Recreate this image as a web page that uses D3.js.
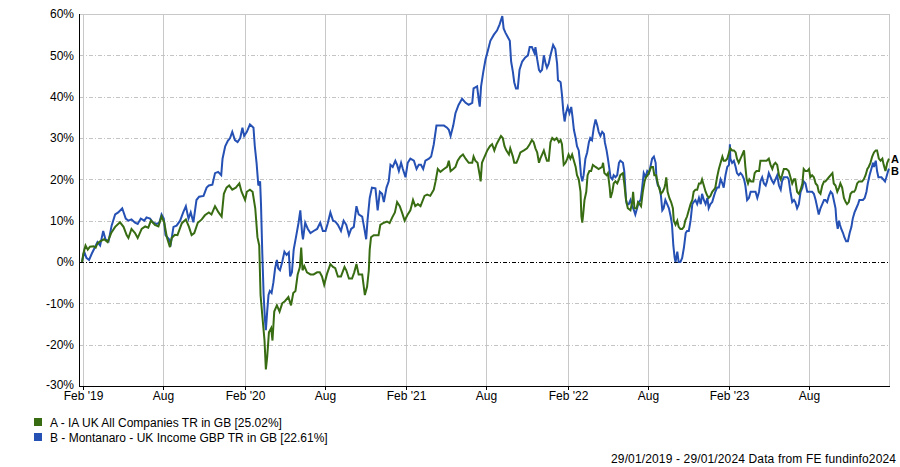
<!DOCTYPE html>
<html><head><meta charset="utf-8">
<script src="https://cdn.jsdelivr.net/npm/d3@7"></script>
<style>
body{margin:0;background:#fff;}
svg{display:block;font-family:"Liberation Sans",Arial,sans-serif;}
</style></head><body>
<svg id="chart" width="900" height="467"></svg>
<script>
const startDate = "2019-01-29";
const endDate = "2024-01-29";
const xTickDates = ["2019-02-01","2019-08-01","2020-02-01","2020-08-01","2021-02-01","2021-08-01","2022-02-01","2022-08-01","2023-02-01","2023-08-01"];
const xTickLabels = ["Feb '19","Aug","Feb '20","Aug","Feb '21","Aug","Feb '22","Aug","Feb '23","Aug"];
const yTicks = [-30,-20,-10,0,10,20,30,40,50,60];
const seriesNames = ["A - IA UK All Companies TR in GB [25.02%]","B - Montanaro - UK Income GBP TR in GB [22.61%]"];
const seriesCodes = ["A","B"];
const seriesColors = ["#386c12","#2550b4"];
const footerText = "29/01/2019 - 29/01/2024 Data from FE fundinfo2024";
// [days since start, cumulative % return]
const seriesA = [[0,0],[3,2],[8,4],[13,3],[18,3.7],[26,3.8],[31,3.5],[35,4.5],[41,5],[50,5.5],[58,4.8],[66,7],[75,8.5],[86,9.6],[94,8.5],[101,6.5],[105,5.8],[112,8],[120,7],[126,5.8],[135,8],[143,8.6],[150,8.3],[156,10],[165,9],[173,8.6],[180,11],[186,9.6],[192,6],[199,3.6],[203,5.8],[210,6.6],[216,6.5],[226,9.4],[235,10.3],[242,8.5],[248,6.5],[254,7],[262,9.5],[271,10.3],[278,11.3],[287,12],[293,11.5],[301,13.5],[309,12],[316,11],[321,16.5],[327,18],[333,18.5],[340,17.5],[348,18],[356,19],[361,17],[369,15],[373,17],[380,17.5],[386,17],[392,13],[397,6],[401,4],[404,-8],[408,-13],[413,-19],[416,-26],[419,-23],[423,-17],[428,-16],[431,-19],[435,-12],[441,-10.5],[447,-12],[453,-10],[459,-9.5],[467,-8.5],
[473,-10.5],[478,-7.5],[483,-7],[488,-3],[493,-1.2],[496,3.5],[499,-2],[503,-1],[509,-2.5],[517,-3],[524,-3],[532,-2.5],[538,-2.5],[543,-3.5],[548,-5.5],[554,-3],[562,-0.5],[568,-1.2],[573,-1.5],[579,-3.5],[586,-3.5],[594,-1.2],[598,-2],[604,-4],[611,-4],[616,-2.5],[621,-0.5],[626,-3],[634,-3],[637,-5.5],[640,-8],[645,-6],[649,-2],[651,3],[654,6],[660,6.5],[671,6.5],[675,9],[683,9.5],[690,9.8],[696,9.4],[702,10.8],[708,12],[713,14.5],[719,13.5],[724,12],[730,10],[736,11.3],[743,12.5],[749,15],[754,13.5],[760,14],[766,13.5],[775,16],[781,16.3],[788,16],[796,17.5],[800,19.5],[805,22.5],[811,21.8],[819,22.5],[826,23],[830,24.5],[834,22],[840,22.5],[845,23],[850,24.5],[856,25.5],[862,26],[868,25],[875,24],[883,24],[886,25.5],[890,24.5],[895,24],[900,21],[902,19.5],[905,24],[909,25],[913,26],[917,27],[923,28],[928,28.5],[933,27],[938,28.5],[943,29.5],[948,30.5],[952,30],[956,28],[960,27],[966,26],[969,27.5],[975,25.5],[978,24],[983,24],[987,25],[992,26.5],[1000,27],[1007,27.5],[1013,28.5],[1018,29.5],[1022,29],[1026,27.5],[1030,26.5],[1034,24],[1037,25],[1041,26],[1045,27],[1049,25.5],[1052,24.5],[1056,24.5],[1060,29],[1064,30],[1069,29.5],[1074,30],[1079,29],[1083,29.5],[1086,28.5],[1090,23.5],[1094,24],[1098,25],[1101,26],[1105,25],[1109,26],[1113,24.5],[1117,23],[1120,21],[1124,20],[1128,17],[1130,11],[1132,9.5],[1134,11.5],[1137,15],[1141,17],[1144,21],[1148,22],[1152,22],[1156,23.5],[1162,23],[1169,22.5],[1177,23],[1179,24],[1182,21.5],[1187,21],[1190,21.5],[1194,18],[1196,15.5],[1200,17],[1203,19],[1207,19.5],[1211,19],[1215,20],[1218,21],[1224,21.5],[1227,19],[1231,15],[1235,13],[1241,12.5],[1245,14.5],[1247,17],[1250,13],[1255,13],[1258,14.5],[1262,14],[1265,13.5],[1269,17],[1273,19.5],[1276,20.5],[1280,21],[1284,22],[1288,23],[1292,23],[1295,21],[1299,21],[1303,19],[1307,17.5],[1310,16.5],[1314,17],[1318,18],[1320,19],[1322,20.5],[1325,17],[1329,15.5],[1333,14.5],[1337,13],[1339,10],[1343,9],[1347,10],[1350,8.5],[1354,8],[1358,8],[1362,8.5],[1365,10],[1369,11],[1373,12.5],[1377,14],[1381,15],[1384,17],[1388,17.5],[1392,17.5],[1396,19],[1400,19],[1403,20],[1407,18.5],[1411,17],[1415,16],[1418,15.5],[1422,16],[1426,17],[1430,17.5],[1433,18],[1437,20.5],[1441,22.5],[1445,24],[1449,25.5],[1452,24.5],[1456,24.5],[1460,25],[1464,26.5],[1467,27.5],[1471,27],[1475,27],[1479,26.5],[1482,25],[1486,24],[1490,25],[1494,26],[1498,27],[1501,23],[1504,20],[1507,19],[1510,20],[1514,19.5],[1519,19.5],[1522,21.5],[1526,22],[1532,22],[1535,24.5],[1539,24.5],[1543,24.5],[1549,24.5],[1554,25],[1558,23.5],[1562,22.5],[1565,23.5],[1569,24],[1573,23.5],[1577,21],[1581,20],[1584,21],[1588,22.5],[1594,22.5],[1599,22],[1603,20.5],[1607,19],[1611,20],[1614,20],[1618,17],[1622,16.5],[1626,17.5],[1630,19],[1633,22.5],[1637,22],[1641,22],[1645,22.5],[1648,20.5],[1652,21],[1656,20.5],[1660,19],[1664,18.5],[1667,17],[1671,16.5],[1675,18.5],[1679,19.5],[1682,19.5],[1686,20],[1690,20.5],[1694,21],[1698,21.5],[1701,19],[1705,18.5],[1709,17],[1713,18],[1716,19],[1720,18],[1724,15.5],[1728,14.5],[1731,14],[1735,14.5],[1739,16.5],[1743,17],[1747,17],[1750,17.5],[1754,19],[1758,19.5],[1762,19.5],[1765,19.5],[1769,20],[1773,21],[1777,22.5],[1780,23],[1784,24],[1788,25.5],[1792,26.5],[1796,27],[1799,27],[1803,25],[1807,24.5],[1811,25],[1814,23.5],[1818,22],[1822,24],[1826,25.02]];
const seriesB = [[0,0],[5,2.5],[10,1],[16,0.5],[22,2],[29,3.5],[35,4.8],[41,4],[48,7.5],[53,5.5],[60,5],[67,8.8],[75,11.5],[82,12],[91,13],[99,10.5],[105,10],[112,10.3],[120,9.5],[126,9.2],[133,10.5],[141,10],[146,10.8],[154,10.5],[161,9.5],[169,9.2],[175,9.5],[180,11.5],[185,10.5],[189,6.5],[197,5.5],[201,4.5],[207,8.5],[214,8.8],[222,10],[229,12],[235,13.5],[241,10.5],[246,12],[252,9.6],[259,15],[265,15.8],[275,16],[282,18],[287,18.5],[295,18.7],[301,21.5],[308,21.8],[315,21],[318,25],[324,28],[330,29.3],[335,30],[340,31.5],[346,29.5],[352,29],[358,30],[363,32.5],[367,30.5],[373,31.5],[380,33.3],[388,32.5],[391,28],[395,24],[399,18.5],[403,19.5],[405,14],[408,2],[411,-8],[414,-14],[416,-16.5],[419,-12],[422,-8],[425,-7],[429,-7.5],[433,-5],[437,-1.5],[441,0.5],[444,-1.5],[448,-2],[453,0],[458,2.5],[463,1.7],[468,2.3],[471,-3.5],[475,-2.5],[479,3],[485,6.5],[490,9.5],[494,12.5],[498,7],[500,5.5],[505,9.5],[511,8],[517,7],[524,7.5],[532,8],[539,9.5],[545,7.5],[551,7.5],[556,9.3],[562,12],[568,10],[573,9.8],[579,9],[586,7.5],[592,10],[598,9],[604,6.5],[609,8],[615,8.5],[621,13.5],[626,11.5],[634,11],[639,8],[643,5.5],[646,10],[651,15.5],[656,18],[664,17.8],[669,12.5],[674,17],[679,16.5],[683,14.5],[689,18],[694,19.5],[698,23.5],[703,23],[709,24.5],[713,23.5],[717,22],[722,24],[726,22.5],[732,20.5],[737,24],[743,25],[751,24.5],[757,22.5],[762,23.5],[767,23.5],[772,22.5],[777,24.5],[785,25],[790,25.5],[796,28.5],[802,33],[807,33],[819,33],[826,32.5],[830,32],[834,30.5],[840,33],[845,36],[852,38],[860,39.5],[868,38.5],[875,38],[883,38.5],[886,42],[894,42.5],[898,39],[900,37.6],[903,42.5],[908,46],[913,49],[918,51],[924,53.5],[932,55],[939,56],[945,57.5],[951,59.5],[954,56.5],[958,55.5],[963,54.5],[968,53.5],[971,48.5],[975,46],[978,43.5],[982,42],[986,42],[990,46.5],[996,48.5],[1003,49.5],[1009,50],[1013,52],[1018,52],[1024,50.5],[1026,52],[1030,49],[1034,46.5],[1037,46],[1041,46.5],[1045,50],[1049,48],[1052,47],[1056,48],[1060,50],[1066,52.5],[1071,51.5],[1075,48],[1077,44],[1083,43.5],[1086,40.5],[1089,36.5],[1092,34],[1095,36],[1099,37.5],[1103,36],[1107,37.5],[1110,35],[1113,32],[1117,30],[1120,28],[1124,27],[1126,25],[1129,21],[1132,19.5],[1135,21],[1139,25],[1143,26.5],[1147,29],[1150,30],[1154,29.5],[1158,32.5],[1162,34.5],[1166,33],[1169,31.5],[1173,30.5],[1177,31.5],[1181,31],[1183,29],[1187,27],[1190,25],[1194,22],[1196,20.5],[1200,20],[1203,21],[1207,20.5],[1211,21],[1215,24],[1218,24.5],[1224,24],[1227,22],[1231,15],[1233,14],[1237,14],[1241,15],[1245,13.5],[1249,12.5],[1252,11.5],[1256,13],[1260,14.5],[1264,15],[1267,17.5],[1271,21.5],[1275,20.5],[1279,22],[1283,21.5],[1286,23],[1290,25],[1294,25.5],[1298,24],[1300,20],[1303,18.5],[1307,18],[1310,16],[1313,12.5],[1316,13],[1320,15],[1324,14],[1328,13],[1332,11],[1335,9],[1338,4],[1341,1],[1343,0],[1347,2.5],[1350,0],[1354,0],[1358,1],[1362,3.5],[1366,7],[1369,7.5],[1373,7.5],[1377,10],[1381,14],[1384,14.5],[1388,15],[1392,14],[1396,15.5],[1400,14],[1403,16.5],[1407,15],[1411,14],[1415,15.5],[1418,13],[1422,14],[1426,14.5],[1430,16],[1433,17],[1437,18],[1441,18],[1445,20],[1449,19],[1452,18],[1456,21],[1460,23],[1464,23.5],[1466,28.5],[1467,25],[1471,24],[1475,24.5],[1479,23],[1482,21.5],[1486,21],[1490,21.5],[1494,21],[1498,20],[1501,18.5],[1505,15],[1509,15.5],[1513,17],[1516,17],[1520,17],[1524,17],[1528,15.5],[1532,17],[1535,19.5],[1539,20.5],[1543,19],[1547,18.5],[1550,19.5],[1554,21.5],[1558,20.5],[1562,19.5],[1565,19],[1569,20],[1573,21],[1577,18.5],[1581,17.5],[1584,19.5],[1588,20.5],[1596,20.5],[1599,20],[1603,17],[1607,14.5],[1611,15],[1614,14.5],[1618,13],[1622,14],[1626,17],[1630,18],[1633,19.5],[1637,19],[1641,17],[1645,17],[1648,17],[1652,17],[1656,16.5],[1660,15],[1664,13],[1667,11.5],[1671,13],[1675,14],[1679,15],[1682,15],[1686,14.5],[1690,16],[1694,17],[1698,16.5],[1701,15],[1705,13],[1707,10],[1710,8],[1713,10],[1715,9],[1718,8],[1722,7],[1725,6],[1729,5],[1733,5],[1737,7],[1741,8.5],[1744,10.5],[1748,12],[1752,13],[1756,14],[1759,15],[1763,15],[1767,15],[1771,15.5],[1775,17],[1778,19],[1782,21],[1786,22.5],[1790,24],[1792,23],[1796,24.5],[1799,22],[1802,20.5],[1805,20.5],[1809,20.5],[1813,20],[1817,19.5],[1820,20.5],[1824,22],[1826,22.61]];

const parse = d3.utcParse("%Y-%m-%d");
const t0 = parse(startDate), t1 = parse(endDate);
const svg = d3.select("#chart");
const L = 80, R = 889, T = 14, B = 386;
const x = d3.scaleUtc().domain([t0, t1]).range([82, R]);
const y = d3.scaleLinear().domain([-30, 60]).range([B, T]);
const font = "12px";

const grid = svg.append("g");
xTickDates.forEach(d => {
  const xx = Math.round(x(parse(d))) + 0.5;
  grid.append("line").attr("x1", xx).attr("x2", xx).attr("y1", T).attr("y2", B)
    .attr("stroke", "#c8c8c8").attr("stroke-width", 1);
});
yTicks.forEach(v => {
  if (v === -30 || v === 0) return;
  const yy = Math.round(y(v)) + 0.5;
  grid.append("line").attr("x1", L).attr("x2", R).attr("y1", yy).attr("y2", yy)
    .attr("stroke", v === 60 ? "#c8c8c8" : "#c4c4c4").attr("stroke-width", 1)
    .attr("stroke-dasharray", v === 60 ? null : "4,2,1,2");
});
grid.append("line").attr("x1", R + 0.5).attr("x2", R + 0.5).attr("y1", T).attr("y2", B)
  .attr("stroke", "#c8c8c8");
grid.append("line").attr("x1", L).attr("x2", R).attr("y1", Math.round(y(0)) + 0.5).attr("y2", Math.round(y(0)) + 0.5)
  .attr("stroke", "#000").attr("stroke-dasharray", "4,2,1,2");

const line = d3.line()
  .x(d => x(d3.utcDay.offset(t0, d[0])))
  .y(d => y(d[1]));
svg.append("path").datum(seriesB).attr("d", line).attr("fill", "none")
  .attr("stroke", seriesColors[1]).attr("stroke-width", 2);
svg.append("path").datum(seriesA).attr("d", line).attr("fill", "none")
  .attr("stroke", seriesColors[0]).attr("stroke-width", 2);

svg.append("line").attr("x1", L - 0.5).attr("x2", L - 0.5).attr("y1", T).attr("y2", B + 1).attr("stroke", "#000");
svg.append("line").attr("x1", L - 1).attr("x2", R + 1).attr("y1", B + 0.5).attr("y2", B + 0.5).attr("stroke", "#000");

yTicks.forEach(v => {
  svg.append("text").attr("x", 74).attr("y", y(v) - (v === -30 ? 1 : 0)).attr("dy", "0.36em")
    .attr("text-anchor", "end").attr("font-size", font).attr("fill", "#000")
    .text(v + "%");
});
xTickDates.forEach((d, i) => {
  const xx = Math.round(x(parse(d))) + 0.5;
  svg.append("line").attr("x1", xx).attr("x2", xx).attr("y1", B).attr("y2", B + 4).attr("stroke", "#000");
  svg.append("text").attr("x", xx).attr("y", 400).attr("text-anchor", "middle")
    .attr("font-size", font).attr("fill", "#000").text(xTickLabels[i]);
});

svg.append("text").attr("x", 891).attr("y", 163).attr("font-size", "11px").attr("font-weight", "bold").text(seriesCodes[0]);
svg.append("text").attr("x", 891).attr("y", 175).attr("font-size", "11px").attr("font-weight", "bold").text(seriesCodes[1]);

seriesNames.forEach((n, i) => {
  const ly = 418 + i * 15;
  svg.append("rect").attr("x", 34).attr("y", ly).attr("width", 8).attr("height", 8).attr("fill", seriesColors[i]);
  svg.append("text").attr("x", 50).attr("y", ly + 9).attr("font-size", font).attr("fill", "#000").text(n);
});

svg.append("text").attr("x", 611).attr("y", 463)
  .attr("font-size", font).attr("fill", "#000")
  .attr("textLength", 285).attr("lengthAdjust", "spacing").text(footerText);
</script>
</body></html>
